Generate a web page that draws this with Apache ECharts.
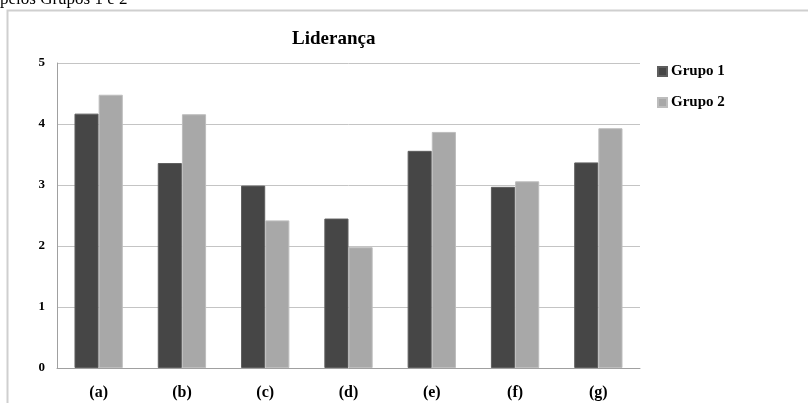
<!DOCTYPE html>
<html>
<head>
<meta charset="utf-8">
<script src="https://cdn.jsdelivr.net/npm/echarts@6/dist/echarts.min.js"></script>
<style>
  html, body { margin: 0; padding: 0; background: #fff; }
  #chart { width: 808px; height: 403px; }
</style>
</head>
<body>
<div id="chart"></div>
<script>
// Leadership scores per item for the two groups
const categories = ['(a)', '(b)', '(c)', '(d)', '(e)', '(f)', '(g)'];
const grupo1 = [4.17, 3.36, 2.99, 2.45, 3.56, 2.97, 3.37];
const grupo2 = [4.48, 4.16, 2.42, 1.98, 3.87, 3.06, 3.93];
const yTicks = [0, 1, 2, 3, 4, 5];

const serif = '"Liberation Serif", "Times New Roman", serif';

const chart = echarts.init(document.getElementById('chart'), null, { renderer: 'canvas' });

chart.setOption({
  animation: false,
  backgroundColor: '#ffffff',
  graphic: [
    {
      type: 'rect',
      shape: { x: 7.5, y: 10.5, width: 900, height: 500 },
      style: { fill: 'none', stroke: '#cfcfcf', lineWidth: 2 },
      silent: true
    },
    {
      type: 'text',
      left: 0,
      top: -9,
      style: { text: 'pelos Grupos 1 e 2', font: '17px ' + serif, fill: '#000' },
      silent: true
    }
  ],
  title: {
    text: 'Liderança',
    left: 287,
    top: 25,
    textStyle: { fontFamily: serif, fontWeight: 'bold', fontSize: 19, color: '#000' }
  },
  legend: {
    orient: 'vertical',
    left: 652,
    top: 59,
    itemWidth: 9,
    itemHeight: 9,
    itemGap: 16,
    icon: 'rect',
    textStyle: { fontFamily: serif, fontWeight: 'bold', fontSize: 15, color: '#000', padding: [0, 0, 0, -1] },
    data: ['Grupo 1', 'Grupo 2']
  },
  grid: { left: 57, top: 63, width: 583, height: 305, containLabel: false },
  xAxis: {
    type: 'category',
    data: categories,
    axisLine: { lineStyle: { color: '#a0a0a0', width: 1 } },
    axisTick: { show: false },
    axisLabel: { fontFamily: serif, fontWeight: 'bold', fontSize: 16, color: '#000', margin: 17 }
  },
  yAxis: {
    type: 'value',
    min: yTicks[0],
    max: yTicks[yTicks.length - 1],
    interval: 1,
    axisLine: { show: true, lineStyle: { color: '#a0a0a0', width: 1 } },
    axisTick: { show: true, length: 0 },
    splitLine: { lineStyle: { color: '#c4c4c4', width: 1 } },
    axisLabel: { fontFamily: serif, fontWeight: 'bold', fontSize: 13, color: '#000', margin: 12 }
  },
  series: [
    {
      name: 'Grupo 1',
      type: 'bar',
      data: grupo1,
      barGap: '0%',
      barCategoryGap: '42%',
      itemStyle: { color: '#464646', borderColor: '#5e5e5e', borderWidth: 1 }
    },
    {
      name: 'Grupo 2',
      type: 'bar',
      data: grupo2,
      itemStyle: { color: '#a8a8a8', borderColor: '#bdbdbd', borderWidth: 1 }
    }
  ]
});
</script>
</body>
</html>
